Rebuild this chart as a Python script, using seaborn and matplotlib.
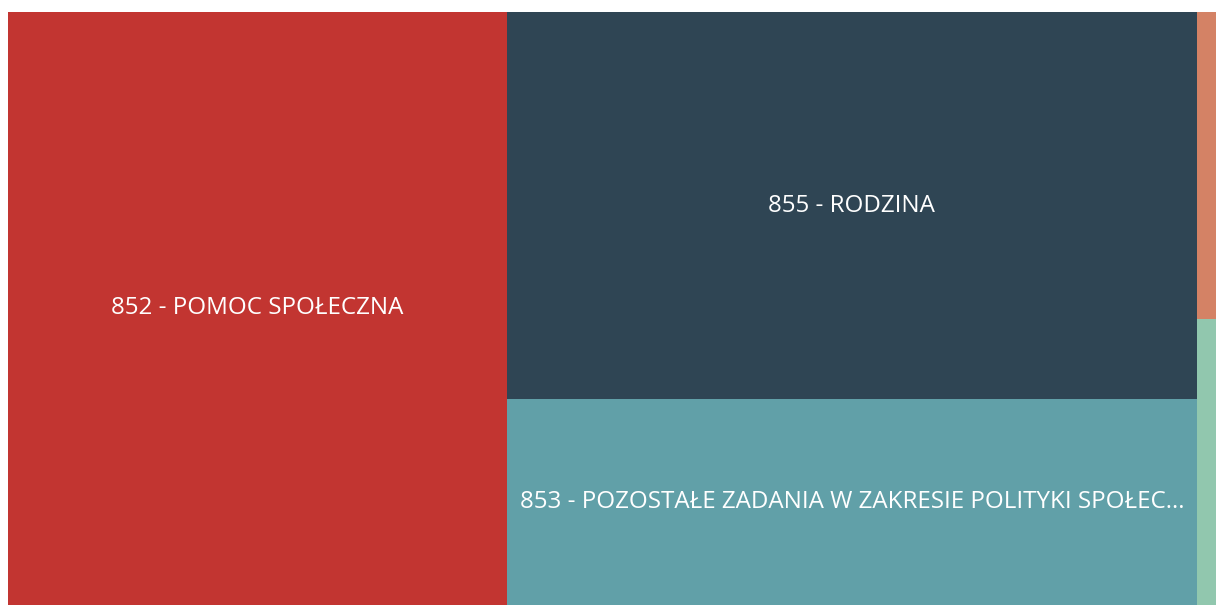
import matplotlib
matplotlib.use("Agg")
import matplotlib.pyplot as plt
from matplotlib.patches import Rectangle
import seaborn as sns

# Budget sections (values in mln zł) arranged in treemap columns
labels = [
    "852 - POMOC SPOŁECZNA",
    "855 - RODZINA",
    "853 - POZOSTAŁE ZADANIA W ZAKRESIE POLITYKI SPOŁECZNEJ",
    "851 - OCHRONA ZDROWIA",
    "854 - EDUKACYJNA OPIEKA WYCHOWAWCZA",
]
values = [29.59, 26.70, 14.21, 0.59, 0.55]
columns = [0, 1, 1, 2, 2]
colors = sns.color_palette(["#c23531", "#2f4554", "#61a0a8", "#d48265", "#91c7ae"])

sns.set_theme(style="white")
plt.rcParams["font.family"] = ["Open Sans", "DejaVu Sans"]
FS = 17.4
WEIGHT = "medium"

fig = plt.figure(figsize=(12.16, 6.05), dpi=100)
fig.patch.set_facecolor("white")
W, H = 1216, 605
ax = fig.add_axes([8 / W, 0, 1 - 8 / W, 1 - 12 / H])
total = sum(values)
ax.set_xlim(0, total)
ax.set_ylim(1, 0)
ax.axis("off")

renderer = fig.canvas.get_renderer()


def fit_label(text, width_px):
    """Shorten text with an ellipsis so that it fits inside width_px."""
    t = ax.text(0, 0, text, fontsize=FS, fontweight=WEIGHT)
    def w(s):
        t.set_text(s)
        return t.get_window_extent(renderer).width
    pad = 24
    if w(text) <= width_px - pad:
        t.remove()
        return text
    for n in range(len(text) - 1, 0, -1):
        s = text[:n].rstrip() + "..."
        if w(s) <= width_px - pad:
            t.remove()
            return s
    t.remove()
    return None


x0 = 0.0
for col in sorted(set(columns)):
    idx = [i for i, c in enumerate(columns) if c == col]
    col_sum = sum(values[i] for i in idx)
    y0 = 0.0
    for i in idx:
        h = values[i] / col_sum
        ax.add_patch(Rectangle((x0, y0), col_sum, h, facecolor=colors[i],
                               edgecolor="none", linewidth=0))
        x_disp0 = ax.transData.transform((x0, 0))[0]
        x_disp1 = ax.transData.transform((x0 + col_sum, 0))[0]
        lab = fit_label(labels[i], x_disp1 - x_disp0)
        if lab:
            ax.text(x0 + col_sum / 2, y0 + h / 2, lab, color="white",
                    fontsize=FS, fontweight=WEIGHT, ha="center", va="center")
        y0 += h
    x0 += col_sum

fig.savefig("out.png", dpi=100, facecolor="white")
